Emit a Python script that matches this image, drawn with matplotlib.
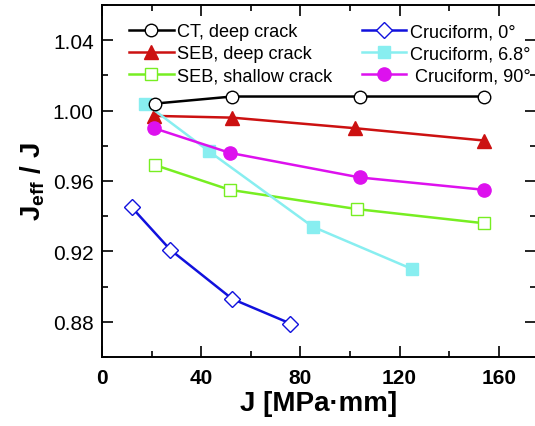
import matplotlib
matplotlib.use('Agg')
import matplotlib.pyplot as plt
from matplotlib.ticker import MultipleLocator

plt.rcParams['font.family'] = ['Liberation Sans', 'DejaVu Sans']
plt.rcParams['mathtext.fontset'] = 'custom'
plt.rcParams['mathtext.rm'] = 'Liberation Sans'
plt.rcParams['mathtext.bf'] = 'Liberation Sans:bold'

# data
ct_j = [21.5, 52.5, 104, 154]
ct_r = [1.004, 1.008, 1.008, 1.008]

seb_deep_j = [21, 52.5, 102, 154]
seb_deep_r = [0.997, 0.996, 0.990, 0.983]

seb_shallow_j = [21.5, 51.5, 103, 154]
seb_shallow_r = [0.969, 0.955, 0.944, 0.936]

cru0_j = [12, 27.5, 52.5, 76]
cru0_r = [0.945, 0.921, 0.893, 0.879]

cru68_j = [17.5, 43, 85, 125]
cru68_r = [1.004, 0.977, 0.934, 0.910]

cru90_j = [21, 51.5, 104, 154]
cru90_r = [0.990, 0.976, 0.962, 0.955]

fig = plt.figure(figsize=(5.35, 4.27), dpi=100)
ax = fig.add_axes([102/535, 69/427, 434/535, 352/427])

lw = 1.8
ms = 9
ax.plot(ct_j, ct_r, '-o', color='black', mfc='white', mec='black', lw=lw, ms=ms,
        label='CT, deep crack', zorder=3)
ax.plot(seb_deep_j, seb_deep_r, '-^', color='#cc1111', lw=lw, ms=ms + 1,
        label='SEB, deep crack')
ax.plot(seb_shallow_j, seb_shallow_r, '-s', color='#77ee22', mfc='white', lw=lw, ms=ms - 0.5,
        label='SEB, shallow crack')
ax.plot(cru0_j, cru0_r, '-D', color='#1111dd', mfc='white', lw=lw, ms=ms - 1,
        label='Cruciform, 0°')
ax.plot(cru68_j, cru68_r, '-s', color='#88eef0', lw=lw, ms=ms - 0.5,
        label='Cruciform, 6.8°')
ax.plot(cru90_j, cru90_r, '-o', color='#dd11ee', lw=lw, ms=ms + 0.5,
        label=' Cruciform, 90°')

ax.set_xlim(0, 175)
ax.set_ylim(0.86, 1.06)
ax.xaxis.set_major_locator(MultipleLocator(40))
ax.xaxis.set_minor_locator(MultipleLocator(20))
ax.yaxis.set_major_locator(MultipleLocator(0.04))
ax.yaxis.set_minor_locator(MultipleLocator(0.02))
ax.yaxis.set_major_formatter(matplotlib.ticker.FormatStrFormatter('%.2f'))

ax.tick_params(which='both', direction='in', top=True, right=True, width=1.2)
ax.tick_params(which='major', length=8)
ax.tick_params(which='minor', length=4)
ax.tick_params(axis='y', labelsize=15, pad=6)
ax.tick_params(axis='x', labelsize=15, pad=8)
for t in ax.get_xticklabels():
    t.set_fontweight('bold')
for s in ax.spines.values():
    s.set_linewidth(1.4)

ax.set_xlabel('J [MPa·mm]', fontsize=20, fontweight='bold', labelpad=2)
ax.set_ylabel(r'$\mathbf{J_{eff}}$ / J', fontsize=20, fontweight='bold', labelpad=4)

ax.legend(ncol=2, loc='upper left', bbox_to_anchor=(0.033, 0.985), frameon=False,
          fontsize=13.1, handlelength=2.45, handletextpad=0.2, columnspacing=1.6,
          labelspacing=0.28, borderaxespad=0.3)

fig.savefig('out.png', dpi=100)
